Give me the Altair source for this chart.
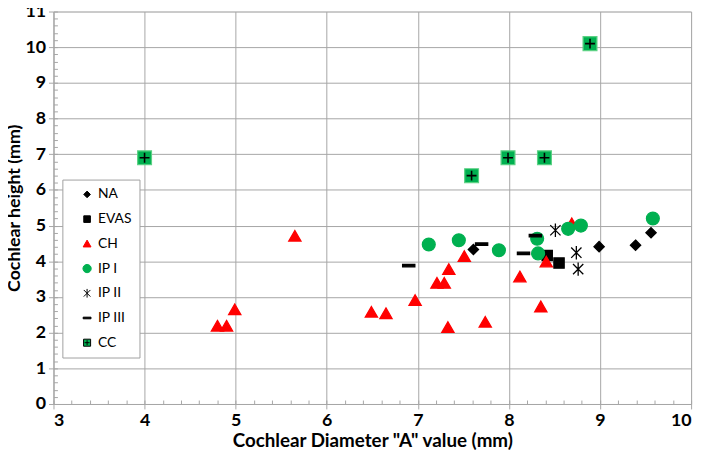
import altair as alt
import pandas as pd

series = ["NA", "EVAS", "CH", "IP I", "IP II", "IP III", "CC"]

na_x = [7.61, 8.99, 9.39, 9.56]
na_y = [4.33, 4.41, 4.45, 4.80]
evas_x = [8.42, 8.55]
evas_y = [4.16, 3.95]
ch_x = [4.80, 4.90, 4.99, 5.65, 6.49, 6.65, 6.97, 7.21, 7.29, 7.33, 7.34, 7.51, 7.74, 8.12, 8.35, 8.41, 8.69]
ch_y = [2.18, 2.18, 2.64, 4.70, 2.57, 2.53, 2.90, 3.38, 3.38, 2.14, 3.77, 4.13, 2.29, 3.56, 2.72, 3.98, 5.05]
ip1_x = [7.12, 7.45, 7.89, 8.31, 8.32, 8.65, 8.79, 9.58]
ip1_y = [4.47, 4.59, 4.31, 4.63, 4.22, 4.91, 5.00, 5.20]
ip2_x = [8.51, 8.74, 8.76]
ip2_y = [4.87, 4.24, 3.78]
ip3_x = [6.90, 7.70, 8.29, 8.16]
ip3_y = [3.88, 4.48, 4.72, 4.22]
cc_x = [4.00, 7.59, 7.99, 8.39, 8.89]
cc_y = [6.90, 6.40, 6.90, 6.90, 10.10]

x_ticks = [3, 4, 5, 6, 7, 8, 9, 10]
y_ticks = list(range(0, 12))
x_minor = [round(3 + 0.2 * i, 1) for i in range(36)]
y_minor = [round(0.2 * i, 1) for i in range(56)]

xs = [na_x, evas_x, ch_x, ip1_x, ip2_x, ip3_x, cc_x]
ys = [na_y, evas_y, ch_y, ip1_y, ip2_y, ip3_y, cc_y]
rows = []
for name, xv, yv in zip(series, xs, ys):
    for a, b in zip(xv, yv):
        rows.append({"series": name, "x": a, "y": b})
df = pd.DataFrame(rows)
df_cc = df[df["series"] == "CC"]

shapes = [
    "M0,-0.8L0.8,0L0,0.8L-0.8,0Z",
    "M-0.8,-0.8H0.8V0.8H-0.8Z",
    "M0,-0.9L0.95,0.75H-0.95Z",
    "circle",
    "M-0.8,-0.8L0.8,0.8M-0.8,0.8L0.8,-0.8M0,-1.05V1.05",
    "M-0.95,-0.2H0.95V0.2H-0.95Z",
    "M-0.85,-0.85H0.85V0.85H-0.85Z M0,-0.6V0.6 M-0.6,0H0.6",
]
fills = ["#000000", "#000000", "#ff0000", "#00b050", "#000000", "#000000", "#00b050"]
strokes = ["#000000", "#000000", "#ff0000", "#00b050", "#000000", "#000000", "#000000"]

W, H = 645, 397
FONT = "Lato"
GRID = "#a6a6a6"

xscale = alt.Scale(domain=[3, 10], nice=False, zero=False)
yscale = alt.Scale(domain=[0, 11], nice=False, zero=True)

xaxis = alt.Axis(values=x_ticks, grid=True, gridColor=GRID, gridWidth=1,
                 domainColor=GRID, tickColor=GRID, tickSize=5,
                 labelFont=FONT, labelFontSize=18, labelFontWeight="bold", labelColor="#000000",
                 labelPadding=3, title='Cochlear Diameter "A" value (mm)',
                 titleFont=FONT, titleFontSize=19, titleFontWeight="bold", titleColor="#000000",
                 titlePadding=2)
yaxis = alt.Axis(values=y_ticks, grid=True, gridColor=GRID, gridWidth=1,
                 domainColor=GRID, tickColor=GRID, tickSize=5,
                 labelFont=FONT, labelFontSize=18, labelFontWeight="bold", labelColor="#000000",
                 labelPadding=3, title="Cochlear height (mm)",
                 titleFont=FONT, titleFontSize=18, titleFontWeight="bold", titleColor="#000000",
                 titlePadding=1)

legend = alt.Legend(orient="none", legendX=9, legendY=170, title=None,
                    fillColor="#ffffff", strokeColor="#a0a0a0", padding=8,
                    symbolOffset=10, symbolSize=70, symbolStrokeWidth=1,
                    labelFont=FONT, labelFontSize=14, labelColor="#000000",
                    rowPadding=11, labelOffset=4)

main = alt.Chart(df).mark_point(filled=True, size=169, strokeWidth=1.3, opacity=1).encode(
    x=alt.X("x:Q", scale=xscale, axis=xaxis),
    y=alt.Y("y:Q", scale=yscale, axis=yaxis),
    shape=alt.Shape("series:N", scale=alt.Scale(domain=series, range=shapes), legend=legend),
    fill=alt.Fill("series:N", scale=alt.Scale(domain=series, range=fills), legend=legend),
    stroke=alt.Stroke("series:N", scale=alt.Scale(domain=series, range=strokes), legend=legend),
)

cc_sq = alt.Chart(df_cc).mark_point(shape="square", filled=True, size=196, fill="#00b050",
                                    stroke="#5cd184", strokeWidth=1.2, opacity=1).encode(
    x=alt.X("x:Q", scale=xscale, axis=None), y=alt.Y("y:Q", scale=yscale, axis=None))
cc_cross = alt.Chart(df_cc).mark_point(shape="M0,-1V1M-1,0H1", size=100, stroke="#000000",
                                       strokeWidth=1.6, opacity=1).encode(
    x=alt.X("x:Q", scale=xscale, axis=None), y=alt.Y("y:Q", scale=yscale, axis=None))

minor = alt.Chart(df).mark_point(opacity=0).encode(
    x=alt.X("x:Q", scale=xscale, axis=alt.Axis(orient="top", offset=-H, values=x_minor, labels=False,
                                               domain=False, grid=False, tickSize=4, tickColor=GRID,
                                               title=None)),
    y=alt.Y("y:Q", scale=yscale, axis=alt.Axis(orient="right", offset=-W, values=y_minor, labels=False,
                                               domain=False, grid=False, tickSize=4, tickColor=GRID,
                                               title=None)),
)

chart = alt.layer(minor, main, cc_sq, cc_cross).resolve_axis(x="independent", y="independent").properties(
    width=W, height=H,
    autosize=alt.AutoSizeParams(type="none"),
    padding={"left": 46, "top": 1, "right": 10, "bottom": 46},
).configure_view(stroke=None).configure(background="#ffffff")

chart.save("out.html", embed_options={"renderer": "svg", "actions": False})
